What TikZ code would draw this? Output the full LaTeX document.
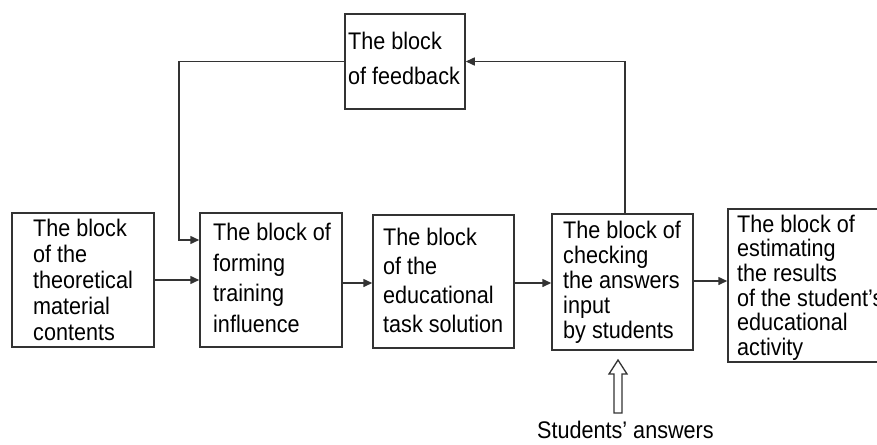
\documentclass[tikz,border=0pt]{standalone}
\usepackage{fontspec}
\setmainfont[FakeStretch=0.9]{Liberation Sans}
\usetikzlibrary{arrows.meta}
\begin{document}
\begin{tikzpicture}[x=1pt,y=-1pt,
  blk/.style={draw=black!80, line width=1.5pt, inner sep=0pt},
  txt/.style={anchor=north west, inner sep=0pt, align=left,
              font=\fontsize{24}{#1}\selectfont},
  arr/.style={draw=black!80, line width=1.5pt,
              -{Triangle[length=9pt,width=8pt]}},
  hollow/.style={draw=black!80, line width=1.3pt, fill=white, line join=miter}]
\useasboundingbox (0,0) rectangle (877,444);

% blocks
\node[blk, minimum width=142pt, minimum height=134pt] (b1) at (83,280) {};
\node[blk, minimum width=142pt, minimum height=134pt] (b2) at (271,280) {};
\node[blk, minimum width=141pt, minimum height=133pt] (b3) at (443.5,281.5) {};
\node[blk, minimum width=141pt, minimum height=136pt] (b4) at (622.5,282) {};
\node[blk, minimum width=152pt, minimum height=153pt] (b5) at (804,285.5) {};
\node[blk, minimum width=120pt, minimum height=95pt] (fb) at (405,61.5) {};

% block texts
\node[txt=26pt] (t1) at (33,218.8) {The block\\of the\\theoretical\\material\\contents};
\node[txt=30.7pt] (t2) at (213,222.8) {The block of\\forming\\training\\influence};
\node[txt=29pt] (t3) at (383,227.8) {The block\\of the\\educational\\task solution};
\node[txt=25pt] (t4) at (563,220.8) {The block of\\checking\\the answers\\input\\by students};
\node[txt=24.6pt] (t5) at (737,214.8) {The block of\\estimating\\the results\\of the student’s\\educational\\activity};
\node[txt=35pt] (tf) at (348,31.8) {The block\\of feedback};

% main chain
\draw[arr] (b1.east) -- (b1.east -| b2.west);
\draw[arr] (b2.east |- 0,283) -- (b3.west |- 0,283);
\draw[arr] (b3.east |- 0,283) -- (b4.west |- 0,283);
\draw[arr] (b4.east |- 0,281) -- (b5.west |- 0,281);

% feedback loop
\coordinate (up) at (625,0);
\draw[arr] (b4.north -| up) |- (fb.east);
\coordinate (fbturn) at (179,240);
\draw[arr] (fb.west) -| (fbturn) -- (fbturn -| b2.west);

% students' answers input
\node[anchor=base west, inner sep=0pt, font=\fontsize{24}{26}\selectfont] (ans) at (537,438) {Students’ answers};
\coordinate (tail) at (618,413);
\draw[hollow] (tail) ++(-4,0) -- ++(0,-39) -- ++(-5,0) -- ++(9,-14)
  -- ++(9,14) -- ++(-5,0) -- ++(0,39) -- cycle;
\end{tikzpicture}
\end{document}
